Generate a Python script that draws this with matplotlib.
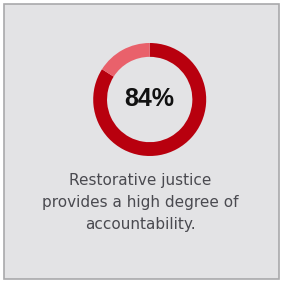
import matplotlib
matplotlib.use("Agg")
import matplotlib.pyplot as plt
from matplotlib.patches import Rectangle

values = [84, 16]
colors = ["#b8000e", "#e9616b"]
label = "84%"
caption = ["Restorative justice", "provides a high degree of", "accountability."]

W, H = 281, 282
fig = plt.figure(figsize=(W / 100, H / 100), dpi=100)
fig.patch.set_facecolor("white")

bg = fig.add_axes([0, 0, 1, 1])
bg.set_xlim(0, W)
bg.set_ylim(H, 0)
bg.axis("off")
bg.add_patch(Rectangle((3.5, 3.5), 275, 275, facecolor="#e3e3e5", edgecolor="#a9a9ab", linewidth=1.2))

cx, cy, r = 149.7, 99.5, 56.5
ax = fig.add_axes([(cx - r) / W, (H - cy - r) / H, 2 * r / W, 2 * r / H])
ax.pie(values, colors=colors, startangle=90, counterclock=False, radius=1,
       wedgeprops=dict(width=0.245, linewidth=0))
ax.set_xlim(-1, 1)
ax.set_ylim(-1, 1)
ax.set_aspect("equal")
ax.axis("off")
ax.text(0, 0, label, ha="center", va="center", fontsize=18, fontweight="bold",
        color="#111111", family="Liberation Sans")

ys = [181, 203, 225]
for t, y in zip(caption, ys):
    fig.text(140 / W, 1 - y / H, t, ha="center", va="center", fontsize=11,
             color="#4a4a50", family="DejaVu Sans")

fig.savefig("out.png", dpi=100, facecolor="white")
